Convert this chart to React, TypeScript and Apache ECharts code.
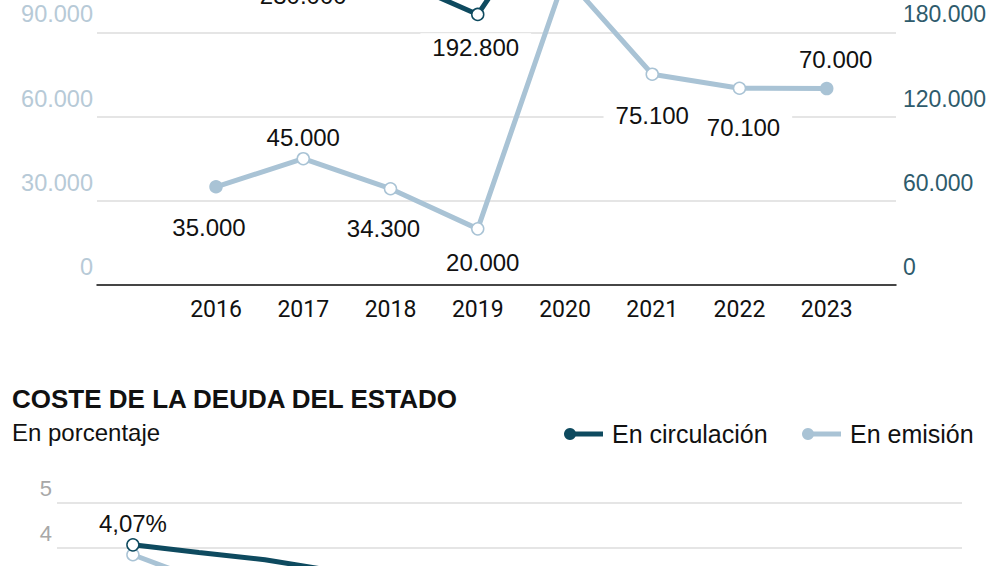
import React, { useEffect, useRef } from 'react';
import * as echarts from 'echarts';

// ---------- DATA ----------
const years = [2016, 2017, 2018, 2019, 2020, 2021, 2022, 2023];
// light series (left axis)
const emisionNeta = [35000, 45000, 34300, 20000, 110000, 75100, 70100, 70000];
// dark series (right axis)
const emisionBruta = [232000, 230000, 220000, 192800, 285000, 265000, 255000, 257000];
const leftTicks = [0, 30000, 60000, 90000, 120000, 150000];
const rightTicks = [0, 60000, 120000, 180000, 240000, 300000];

const costYears = [2011, 2012, 2013, 2014, 2015, 2016, 2017, 2018, 2019, 2020, 2021, 2022, 2023];
const costeCirculacion = [4.07, 3.9, 3.74, 3.5, 3.13, 2.79, 2.52, 2.35, 2.19, 1.91, 1.73, 1.73, 2.0];
const costeEmision = [3.85, 3.3, 2.5, 1.53, 0.74, 0.62, 0.67, 0.67, 0.3, 0.1, 0.04, 1.18, 3.3];
const costTicks = [0, 1, 2, 3, 4, 5];

const costTitle = 'COSTE DE LA DEUDA DEL ESTADO';
const costSubtitle = 'En porcentaje';
const legendNames = ['En circulación', 'En emisión'];

// ---------- STYLE / LAYOUT ----------
const OFF = 160; // chart canvas starts above the visible window
const H = 940;
const DARK = '#0e4a5f';
const LIGHT = '#a9c3d5';
const GRID = '#dcdcdc';

const netLabelPos = ['bottom', 'top', 'bottom', 'bottom', 'top', 'bottom', 'bottom', 'top'];
const netLabelDist = [20, 0, 19, 13, 5, 21, 18, 8];
const netLabelDx = [-7, 0, -7, 5, 0, 0, 4, 9];
const brutaLabelShow = [false, true, false, true, false, false, false, false];
const brutaLabelDist = [13, 13, 13, 12, 13, 13, 13, 13];
const brutaLabelDx = [0, 0, 0, -2, 0, 0, 0, 0];

const fmtThousands = (v: number) =>
  Math.round(v).toString().replace(/\B(?=(\d{3})+(?!\d))/g, '.');
const fmtPct = (v: number) => v.toFixed(2).replace('.', ',') + '%';

const labelBase = {
  show: true,
  fontFamily: 'Liberation Sans',
  fontSize: 24,
  lineHeight: 24,
  color: '#111',
  backgroundColor: '#fff',
  padding: [2, 12],
};

const marker = (filled: boolean, color: string) => ({
  color: filled ? color : '#fff',
  borderColor: color,
  borderWidth: 1.5,
});

function buildOption() {
  const netData = years.map((y, i) => ({
    value: [y, emisionNeta[i]],
    itemStyle: marker(i === 0 || i === years.length - 1, LIGHT),
    label: {
      ...labelBase,
      position: netLabelPos[i],
      distance: netLabelDist[i],
      offset: [netLabelDx[i], 0],
      formatter: (p: any) => fmtThousands(p.value[1]),
    },
  }));
  const brutaData = years.map((y, i) => ({
    value: [y, emisionBruta[i]],
    itemStyle: marker(false, DARK),
    label: {
      ...labelBase,
      show: brutaLabelShow[i],
      position: 'bottom',
      distance: brutaLabelDist[i],
      offset: [brutaLabelDx[i], 0],
      formatter: (p: any) => fmtThousands(p.value[1]),
    },
  }));
  const circData = costYears.map((y, i) => ({
    value: [y, costeCirculacion[i]],
    symbolSize: i === 0 ? 12 : 0,
    itemStyle: marker(false, DARK),
    label: {
      ...labelBase,
      padding: [2, 4],
      show: i === 0,
      position: 'top',
      distance: 1,
      formatter: (p: any) => fmtPct(p.value[1]),
    },
  }));
  const emisData = costYears.map((y, i) => ({
    value: [y, costeEmision[i]],
    symbolSize: i === 0 ? 12 : 0,
    itemStyle: marker(false, LIGHT),
    label: { show: false },
  }));

  const yLabel = (color: string, margin: number, size: number, lh: number, fmt: (v: number) => string) => ({
    margin,
    verticalAlign: 'bottom',
    formatter: (v: number) => `{t|${fmt(v)}}`,
    rich: {
      t: {
        color,
        fontSize: size,
        fontFamily: 'Liberation Sans',
        lineHeight: lh,
      },
    },
  });

  const lg = (cx: number, cy: number, color: string, text: string) => [
    { type: 'line', shape: { x1: cx, y1: cy, x2: cx + 33, y2: cy }, style: { stroke: color, lineWidth: 5 } },
    { type: 'circle', shape: { cx, cy, r: 6 }, style: { fill: color } },
    {
      type: 'text',
      x: cx + 42,
      y: cy,
      style: { text, fontFamily: 'Liberation Sans', fontSize: 25, fill: '#111', verticalAlign: 'middle' },
    },
  ];

  return {
    animation: false,
    backgroundColor: '#fff',
    grid: [
      { left: 97, right: 110, top: 24, height: 421, outerBoundsMode: 'none', containLabel: false },
      { left: 57, right: 44, top: 663, height: 225, outerBoundsMode: 'none', containLabel: false },
    ],
    xAxis: [
      {
        gridIndex: 0,
        type: 'value',
        min: years[0] - 1.364,
        max: years[years.length - 1] + 0.794,
        axisLine: { show: true, onZero: false, lineStyle: { color: '#111', width: 1.5 } },
        axisTick: { show: false },
        splitLine: { show: false },
        axisLabel: {
          customValues: years,
          formatter: (v: number) => String(v),
          margin: 13,
          fontFamily: 'Roboto',
          fontSize: 23,
          color: '#111',
        },
      },
      {
        gridIndex: 1,
        type: 'value',
        min: costYears[0] - 1.15,
        max: costYears[costYears.length - 1] + 0.56,
        axisLine: { show: true, onZero: false, lineStyle: { color: '#111', width: 1.5 } },
        axisTick: { show: false },
        splitLine: { show: false },
        axisLabel: {
          customValues: costYears,
          formatter: (v: number) => String(v),
          margin: 13,
          fontFamily: 'Roboto',
          fontSize: 23,
          color: '#111',
        },
      },
    ],
    yAxis: [
      {
        gridIndex: 0,
        type: 'value',
        position: 'left',
        min: leftTicks[0],
        max: leftTicks[leftTicks.length - 1],
        interval: leftTicks[1] - leftTicks[0],
        axisLine: { show: false },
        axisTick: { show: false },
        splitLine: { lineStyle: { color: GRID, width: 1.5 } },
        axisLabel: yLabel('#b7cad7', 4, 23.5, 36, fmtThousands),
      },
      {
        gridIndex: 0,
        type: 'value',
        position: 'right',
        min: rightTicks[0],
        max: rightTicks[rightTicks.length - 1],
        interval: rightTicks[1] - rightTicks[0],
        axisLine: { show: false },
        axisTick: { show: false },
        splitLine: { show: false },
        axisLabel: yLabel('#2e5b6c', 7, 23, 36, fmtThousands),
      },
      {
        gridIndex: 1,
        type: 'value',
        min: costTicks[0],
        max: costTicks[costTicks.length - 1],
        interval: costTicks[1] - costTicks[0],
        axisLine: { show: false },
        axisTick: { show: false },
        splitLine: { lineStyle: { color: GRID, width: 1.5 } },
        axisLabel: yLabel('#a8a8a8', 5, 22, 30, (v: number) => String(v)),
      },
    ],
    series: [
      {
        name: 'Emisión neta',
        type: 'line',
        xAxisIndex: 0,
        yAxisIndex: 0,
        data: netData,
        symbol: 'circle',
        symbolSize: 12,
        lineStyle: { color: LIGHT, width: 5 },
        z: 2,
      },
      {
        name: 'Emisión bruta',
        type: 'line',
        xAxisIndex: 0,
        yAxisIndex: 1,
        data: brutaData,
        symbol: 'circle',
        symbolSize: 12,
        lineStyle: { color: DARK, width: 5 },
        z: 3,
      },
      {
        name: legendNames[1],
        type: 'line',
        xAxisIndex: 1,
        yAxisIndex: 2,
        data: emisData,
        symbol: 'circle',
        lineStyle: { color: LIGHT, width: 5 },
        z: 2,
      },
      {
        name: legendNames[0],
        type: 'line',
        xAxisIndex: 1,
        yAxisIndex: 2,
        data: circData,
        symbol: 'circle',
        lineStyle: { color: DARK, width: 5 },
        z: 3,
      },
    ],
    graphic: [
      {
        type: 'text',
        x: 12,
        y: 399 + OFF,
        style: {
          text: costTitle,
          fontFamily: 'Liberation Sans',
          fontWeight: 'bold',
          fontSize: 26,
          fill: '#111',
          verticalAlign: 'middle',
        },
      },
      {
        type: 'text',
        x: 12,
        y: 432 + OFF,
        style: {
          text: costSubtitle,
          fontFamily: 'Liberation Sans',
          fontSize: 24,
          fill: '#111',
          verticalAlign: 'middle',
        },
      },
      ...lg(570, 434 + OFF, DARK, legendNames[0]),
      ...lg(808, 434 + OFF, LIGHT, legendNames[1]),
    ],
  };
}

export default function App() {
  const ref = useRef<HTMLDivElement>(null);
  useEffect(() => {
    const chart = echarts.init(ref.current as HTMLDivElement, null, { renderer: 'svg' });
    chart.setOption(buildOption() as any);
    return () => chart.dispose();
  }, []);
  return (
    <div
      style={{
        position: 'fixed',
        left: 0,
        top: 0,
        width: 1006,
        height: 566,
        overflow: 'hidden',
        background: '#fff',
      }}
    >
      <div ref={ref} style={{ position: 'absolute', left: 0, top: -OFF, width: 1006, height: H }} />
    </div>
  );
}
